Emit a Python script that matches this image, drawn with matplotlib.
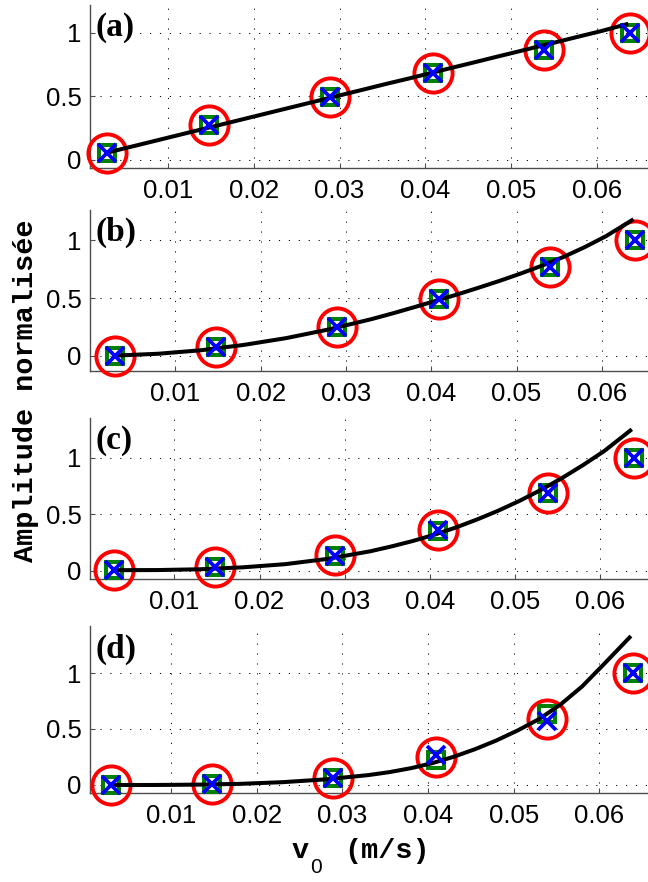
import matplotlib
matplotlib.use("Agg")
import matplotlib.pyplot as plt

# ---------------- data ----------------
v0 = [0.0029, 0.0148, 0.0289, 0.0409, 0.0539, 0.0639]

circle_a = [0.053, 0.276, 0.496, 0.683, 0.866, 1.0]
square_a = [0.053, 0.276, 0.496, 0.683, 0.866, 1.0]
cross_a = [0.053, 0.276, 0.496, 0.683, 0.866, 1.0]

circle_b = [0.0, 0.08, 0.25, 0.49, 0.77, 1.0]
square_b = [0.0, 0.08, 0.25, 0.49, 0.77, 1.0]
cross_b = [0.0, 0.08, 0.25, 0.49, 0.77, 1.0]

circle_c = [0.01, 0.035, 0.135, 0.36, 0.69, 1.0]
square_c = [0.01, 0.035, 0.13, 0.35, 0.69, 1.0]
cross_c = [0.01, 0.035, 0.13, 0.36, 0.69, 1.0]

circle_d = [0.0, 0.01, 0.06, 0.25, 0.59, 1.0]
square_d = [0.0, 0.01, 0.06, 0.225, 0.63, 1.0]
cross_d = [0.0, 0.01, 0.06, 0.265, 0.575, 1.0]

# fitted curves
v_fit = [0.003, 0.008, 0.013, 0.018, 0.023, 0.028, 0.033, 0.0355, 0.038,
         0.0405, 0.043, 0.0455, 0.048, 0.0505, 0.053, 0.0555, 0.058,
         0.0605, 0.0637]
fit_a = [0.06, 0.143, 0.226, 0.309, 0.392, 0.475, 0.558, 0.60, 0.64,
         0.682, 0.724, 0.765, 0.807, 0.848, 0.89, 0.931, 0.973,
         1.014, 1.072]
fit_b = [0.003, 0.019, 0.049, 0.095, 0.154, 0.229, 0.318, 0.368, 0.421,
         0.475, 0.53, 0.588, 0.648, 0.712, 0.78, 0.855, 0.94,
         1.035, 1.18]
fit_c = [0.005, 0.006, 0.013, 0.03, 0.058, 0.105, 0.172, 0.215, 0.263,
         0.318, 0.381, 0.452, 0.53, 0.617, 0.713, 0.819, 0.935,
         1.06, 1.25]
fit_d = [0.0, 0.0, 0.003, 0.01, 0.025, 0.05, 0.088, 0.115, 0.15,
         0.195, 0.252, 0.32, 0.398, 0.488, 0.59, 0.72, 0.88,
         1.075, 1.33]

panel_labels = ["(a)", "(b)", "(c)", "(d)"]
xticks = [0.01, 0.02, 0.03, 0.04, 0.05, 0.06]
xtick_labels = ["0.01", "0.02", "0.03", "0.04", "0.05", "0.06"]
yticks = [0, 0.5, 1]
ytick_labels = ["0", "0.5", "1"]
ylabel = "Amplitude normalisée"

# ---------------- layout ----------------
W, H = 648, 882
fig = plt.figure(figsize=(W / 100, H / 100), dpi=100)

# (top_px, bottom_px), xlim, ylim for each panel
layout = [
    ((5, 168), (0.00087, 0.0660), (-0.063, 1.22)),
    ((210, 371), (0.0, 0.0654), (-0.13, 1.26)),
    ((418, 579), (0.0001, 0.0656), (-0.073, 1.35)),
    ((626, 792.7), (0.0005, 0.0657), (-0.069, 1.42)),
]
circles = [circle_a, circle_b, circle_c, circle_d]
squares = [square_a, square_b, square_c, square_d]
crosses = [cross_a, cross_b, cross_c, cross_d]
fits = [fit_a, fit_b, fit_c, fit_d]

left_px = 90
tick_font = "Liberation Sans"
spine_col = "0.3"

for i in range(4):
    (top, bot), xl, yl = layout[i]
    ax = fig.add_axes([left_px / W, 1 - bot / H, (W - left_px) / W, (bot - top) / H])
    ax.set_xlim(*xl)
    ax.set_ylim(*yl)
    ax.set_xticks(xticks)
    ax.set_xticklabels(xtick_labels)
    ax.set_yticks(yticks)
    ax.set_yticklabels(ytick_labels)
    for lab in ax.get_xticklabels() + ax.get_yticklabels():
        lab.set_fontfamily(tick_font)
        lab.set_fontsize(18.5)
    ax.tick_params(direction="in", length=3.5, width=0.8, color=spine_col)
    ax.tick_params(axis="y", pad=6)
    ax.tick_params(axis="x", pad=8)
    for s in ["top", "right"]:
        ax.spines[s].set_visible(False)
    for s in ["left", "bottom"]:
        ax.spines[s].set_color(spine_col)
        ax.spines[s].set_linewidth(1.0)
    ax.grid(True, color="black", linewidth=0.7, linestyle=(0, (1.2, 9)))
    ax.set_axisbelow(True)

    ax.plot(v0, circles[i], linestyle="none", marker="o", markersize=27.5,
            markerfacecolor="none", markeredgecolor="#ff0000", markeredgewidth=2.8,
            clip_on=False, zorder=3)
    ax.plot(v0, squares[i], linestyle="none", marker="s", markersize=12,
            markerfacecolor="none", markeredgecolor="#008000", markeredgewidth=2.9,
            clip_on=False, zorder=4)
    ax.plot(v_fit, fits[i], color="black", linewidth=2.9, zorder=4.5,
            solid_capstyle="butt", solid_joinstyle="round", clip_on=False)
    ax.plot(v0, crosses[i], linestyle="none", marker="x", markersize=12.5,
            markeredgecolor="#0000ff", markeredgewidth=2.7,
            clip_on=False, zorder=5)

    ax.text(0.009, 0.86, panel_labels[i], transform=ax.transAxes,
            fontfamily="Liberation Serif", fontweight="bold", fontsize=24,
            ha="left", va="center", zorder=7)

# y label
fig.text(26 / W, 1 - 391 / H, ylabel, rotation=90, ha="center", va="center",
         fontfamily="Liberation Mono", fontweight="bold", fontsize=20.5)

# x label: v, subscript 0, (m/s)
fig.text(292 / W, 1 - 858 / H, "v", ha="left", va="baseline",
         fontfamily="Liberation Mono", fontweight="bold", fontsize=20.5)
fig.text(310 / W, 1 - 873 / H, "0", ha="left", va="baseline",
         fontfamily="Liberation Sans", fontsize=15)
fig.text(344 / W, 1 - 858 / H, "(m/s)", ha="left", va="baseline",
         fontfamily="Liberation Mono", fontweight="bold", fontsize=20.5)

fig.savefig("out.png", dpi=100)
